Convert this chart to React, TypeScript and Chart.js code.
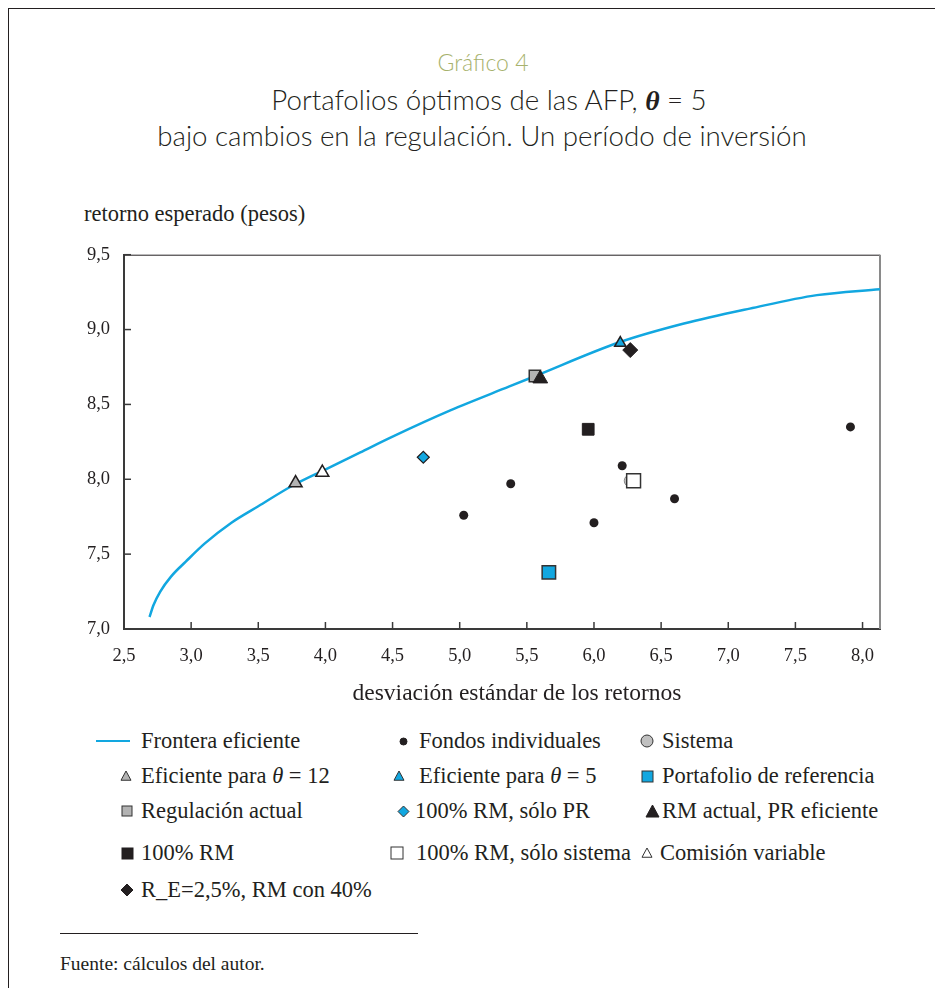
import React, { useEffect, useRef } from "react";
import { Chart, registerables } from "chart.js";
Chart.register(...registerables);

// ---------- data ----------
const frontierSd = [2.69, 2.72, 2.77, 2.85, 2.96, 3.1, 3.3, 3.5, 3.76, 4.01, 4.26, 4.5, 4.93, 5.37, 5.55, 6.19, 6.67, 7.16, 7.66, 8.13];
const frontierRet = [7.08, 7.16, 7.25, 7.35, 7.45, 7.57, 7.71, 7.82, 7.96, 8.07, 8.18, 8.285, 8.46, 8.62, 8.685, 8.915, 9.04, 9.14, 9.23, 9.27];

const fondosSd = [5.03, 5.38, 6.0, 6.21, 6.6, 7.91];
const fondosRet = [7.76, 7.97, 7.71, 8.09, 7.87, 8.35];

const sistema = [6.27, 7.99];
const eficiente12 = [3.778, 7.975];
const eficiente5 = [6.196, 8.91];
const portafolioRef = [5.664, 7.378];
const regulacionActual = [5.56, 8.69];
const rm100SoloPR = [4.729, 8.147];
const rmActualPREf = [5.6, 8.672];
const rm100 = [5.957, 8.334];
const rm100SoloSistema = [6.295, 7.99];
const comisionVariable = [3.977, 8.045];
const re25 = [6.27, 8.863];

const xTicksMin = 2.5;
const xTicksMax = 8.13;
const yTicksMin = 7.0;
const yTicksMax = 9.5;
const tickStep = 0.5;

// ---------- styles ----------
const BLUE = "#12a7e0";
const DARK = "#231f20";
const GRAY = "#b3b3b3";
const SERIF = "'Liberation Serif', 'Times New Roman', serif";
const SANS = "Lato, 'Open Sans', sans-serif";

const fmt = (v: number) => Number(v).toFixed(1).replace(".", ",");

const pt = (a: number[]) => [{ x: a[0], y: a[1] }];

const framePlugin = {
  id: "frameTicks",
  beforeDatasetsDraw(chart: any) {
    const { ctx, chartArea } = chart;
    const xs = chart.scales.x;
    const ys = chart.scales.y;
    ctx.save();
    ctx.strokeStyle = DARK;
    ctx.lineWidth = 1;
    ctx.beginPath();
    ctx.moveTo(chartArea.left, chartArea.top + 0.5);
    ctx.lineTo(chartArea.right, chartArea.top + 0.5);
    ctx.stroke();
    ctx.strokeStyle = "#8a8a8a";
    ctx.lineWidth = 2;
    ctx.beginPath();
    ctx.moveTo(chartArea.right, chartArea.top);
    ctx.lineTo(chartArea.right, chartArea.bottom);
    ctx.stroke();
    ctx.strokeStyle = "#3a3a3a";
    ctx.lineWidth = 1.5;
    xs.ticks.forEach((t: any) => {
      const px = xs.getPixelForValue(t.value);
      ctx.beginPath();
      ctx.moveTo(px, chartArea.bottom);
      ctx.lineTo(px, chartArea.bottom - 7);
      ctx.stroke();
    });
    ys.ticks.forEach((t: any) => {
      const py = ys.getPixelForValue(t.value);
      ctx.beginPath();
      ctx.moveTo(chartArea.left, py);
      ctx.lineTo(chartArea.left + 7, py);
      ctx.stroke();
    });
    ctx.restore();
  },
};

function ChartCanvas() {
  const ref = useRef<HTMLCanvasElement | null>(null);
  useEffect(() => {
    if (!ref.current) return;
    const tickFont = { family: SERIF, size: 18.5 };
    const chart = new Chart(ref.current, {
      type: "scatter",
      data: {
        datasets: [
          { label: "R_E=2,5%, RM con 40%", data: pt(re25), pointStyle: "rectRot", pointRadius: 7.5, backgroundColor: DARK, borderColor: DARK, borderWidth: 1 },
          { label: "RM actual, PR eficiente", data: pt(rmActualPREf), pointStyle: "triangle", pointRadius: 8.5, backgroundColor: DARK, borderColor: DARK, borderWidth: 1 },
          { label: "Eficiente para θ = 5", data: pt(eficiente5), pointStyle: "triangle", pointRadius: 6.5, backgroundColor: BLUE, borderColor: DARK, borderWidth: 1.5 },
          { label: "Regulación actual", data: pt(regulacionActual), pointStyle: "rect", pointRadius: 8, backgroundColor: GRAY, borderColor: "#333", borderWidth: 1.5 },
          { label: "100% RM, sólo sistema", data: pt(rm100SoloSistema), pointStyle: "rect", pointRadius: 9.8, backgroundColor: "#ffffff", borderColor: "#333", borderWidth: 1.5 },
          { label: "Sistema", data: pt(sistema), pointStyle: "circle", pointRadius: 6, backgroundColor: "#c8c8c8", borderColor: "#888", borderWidth: 1 },
          { label: "100% RM", data: pt(rm100), pointStyle: "rect", pointRadius: 8.3, backgroundColor: DARK, borderColor: DARK, borderWidth: 1 },
          { label: "Portafolio de referencia", data: pt(portafolioRef), pointStyle: "rect", pointRadius: 9.5, backgroundColor: BLUE, borderColor: "#333", borderWidth: 1.5 },
          { label: "100% RM, sólo PR", data: pt(rm100SoloPR), pointStyle: "rectRot", pointRadius: 6, backgroundColor: BLUE, borderColor: DARK, borderWidth: 1.2 },
          { label: "Comisión variable", data: pt(comisionVariable), pointStyle: "triangle", pointRadius: 7.5, backgroundColor: "#ffffff", borderColor: DARK, borderWidth: 1.5 },
          { label: "Eficiente para θ = 12", data: pt(eficiente12), pointStyle: "triangle", pointRadius: 7.5, backgroundColor: GRAY, borderColor: DARK, borderWidth: 1.5 },
          { label: "Fondos individuales", data: fondosSd.map((x, i) => ({ x, y: fondosRet[i] })), pointStyle: "circle", pointRadius: 4.5, backgroundColor: DARK, borderColor: DARK, borderWidth: 0 },
          { label: "Frontera eficiente", data: frontierSd.map((x, i) => ({ x, y: frontierRet[i] })), showLine: true, pointRadius: 0, borderColor: BLUE, borderWidth: 2.5, cubicInterpolationMode: "monotone", fill: false } as any,
        ],
      },
      options: {
        animation: false,
        responsive: false,
        maintainAspectRatio: false,
        events: [],
        layout: { padding: { top: 26.7, right: 20, bottom: 0, left: 0 } },
        plugins: { legend: { display: false }, tooltip: { enabled: false }, title: { display: false } },
        scales: {
          x: {
            type: "linear",
            min: xTicksMin,
            max: xTicksMax,
            afterFit: (s: any) => { s.height = 91; },
            ticks: { stepSize: tickStep, includeBounds: false, padding: 16, font: tickFont, color: DARK, callback: (v: any) => fmt(v) },
            grid: { display: false, drawTicks: false },
            border: { display: true, color: "#3a3a3a", width: 2 },
          },
          y: {
            type: "linear",
            min: yTicksMin,
            max: yTicksMax,
            afterFit: (s: any) => { s.width = 64; },
            ticks: { stepSize: tickStep, includeBounds: false, padding: 14, font: tickFont, color: DARK, callback: (v: any) => fmt(v) },
            grid: { display: false, drawTicks: false },
            border: { display: true, color: "#3a3a3a", width: 2 },
          },
        },
      },
      plugins: [framePlugin],
    } as any);
    return () => chart.destroy();
  }, []);
  return <canvas ref={ref} width={840} height={492} style={{ position: "absolute", left: 60 - 9, top: 228 - 9, width: 840, height: 492 }} />;
}

type MarkerKind = "line" | "dot" | "circle" | "tri" | "sq" | "dia";
function Marker({ kind, fill, stroke, size, cx, cy }: { kind: MarkerKind; fill: string; stroke: string; size: number; cx: number; cy: number }) {
  const w = kind === "line" ? 34 : size + 4;
  const h = kind === "line" ? 6 : size + 4;
  const c = w / 2;
  const m = h / 2;
  const s = size / 2;
  let shape: any = null;
  if (kind === "line") shape = <line x1={0} y1={m} x2={w} y2={m} stroke={fill} strokeWidth={2} />;
  else if (kind === "dot" || kind === "circle") shape = <circle cx={c} cy={m} r={s} fill={fill} stroke={stroke} strokeWidth={1} />;
  else if (kind === "tri") shape = <polygon points={`${c},${m - s} ${c + s},${m + s * 0.85} ${c - s},${m + s * 0.85}`} fill={fill} stroke={stroke} strokeWidth={1} />;
  else if (kind === "sq") shape = <rect x={c - s} y={m - s} width={size} height={size} fill={fill} stroke={stroke} strokeWidth={1} />;
  else if (kind === "dia") shape = <polygon points={`${c},${m - s} ${c + s},${m} ${c},${m + s} ${c - s},${m}`} fill={fill} stroke={stroke} strokeWidth={1} />;
  return (
    <svg width={w} height={h} style={{ position: "absolute", left: cx - 9 - w / 2, top: cy - 9 - h / 2 }}>
      {shape}
    </svg>
  );
}

type LegendItem = { text: any; kind: MarkerKind; fill: string; stroke: string; size: number; mx: number; tx: number; y: number };
const legendItems: LegendItem[] = [
  { text: "Frontera eficiente", kind: "line", fill: BLUE, stroke: BLUE, size: 0, mx: 113, tx: 141, y: 741 },
  { text: "Fondos individuales", kind: "dot", fill: DARK, stroke: DARK, size: 7, mx: 403, tx: 419, y: 741 },
  { text: "Sistema", kind: "circle", fill: "#c0c0c0", stroke: "#333", size: 12, mx: 647, tx: 662, y: 741 },
  { text: <>Eficiente para <i>θ</i> = 12</>, kind: "tri", fill: GRAY, stroke: "#333", size: 10, mx: 126, tx: 141, y: 776 },
  { text: <>Eficiente para <i>θ</i> = 5</>, kind: "tri", fill: BLUE, stroke: "#333", size: 10, mx: 399, tx: 419, y: 776 },
  { text: "Portafolio de referencia", kind: "sq", fill: BLUE, stroke: "#333", size: 11, mx: 647, tx: 662, y: 776 },
  { text: "Regulación actual", kind: "sq", fill: GRAY, stroke: "#333", size: 10, mx: 127, tx: 141, y: 811 },
  { text: "100% RM, sólo PR", kind: "dia", fill: BLUE, stroke: "#333", size: 11, mx: 403, tx: 415, y: 811 },
  { text: "RM actual, PR eficiente", kind: "tri", fill: DARK, stroke: DARK, size: 13, mx: 652, tx: 662, y: 811 },
  { text: "100% RM", kind: "sq", fill: DARK, stroke: DARK, size: 11, mx: 127, tx: 141, y: 853 },
  { text: "100% RM, sólo sistema", kind: "sq", fill: "#ffffff", stroke: "#333", size: 12, mx: 397, tx: 416, y: 853 },
  { text: "Comisión variable", kind: "tri", fill: "#ffffff", stroke: "#333", size: 10, mx: 647, tx: 660, y: 853 },
  { text: "R_E=2,5%, RM con 40%", kind: "dia", fill: DARK, stroke: DARK, size: 12, mx: 127, tx: 141, y: 890 },
];

function TextAt({ x, y, children, style, center, width }: { x: number; y: number; children: any; style?: any; center?: boolean; width?: number }) {
  const lh = 30;
  const w = width ?? 800;
  return (
    <div
      style={{
        position: "absolute",
        left: center ? x - 9 - w / 2 : x - 9,
        top: y - 9 - lh / 2,
        width: center ? w : undefined,
        textAlign: center ? "center" : "left",
        lineHeight: `${lh}px`,
        height: lh,
        whiteSpace: "nowrap",
        color: DARK,
        ...style,
      }}
    >
      {children}
    </div>
  );
}

export default function App() {
  const legendFont = { fontFamily: SERIF, fontSize: 22.5 };
  const titleStyle = { fontFamily: SANS, fontWeight: 300, fontSize: 27.7, color: DARK };
  return (
    <div
      style={{
        position: "relative",
        width: 933,
        height: 979,
        borderTop: `1px solid ${DARK}`,
        borderLeft: `1px solid ${DARK}`,
        borderRight: `1px solid ${DARK}`,
        overflow: "hidden",
      }}
    >
      <TextAt x={483} y={62} center style={{ fontFamily: SANS, fontWeight: 300, fontSize: 23, color: "#a7b26d" }}>Gráfico 4</TextAt>
      <TextAt x={489} y={100} center style={titleStyle}>
        Portafolios óptimos de las AFP, <span style={{ fontFamily: SERIF, fontStyle: "italic", fontWeight: "bold" }}>θ</span> = 5
      </TextAt>
      <TextAt x={482} y={136} center style={titleStyle}>bajo cambios en la regulación. Un período de inversión</TextAt>

      <TextAt x={84} y={214} style={{ fontFamily: SERIF, fontSize: 22.5 }}>retorno esperado (pesos)</TextAt>
      <ChartCanvas />
      <TextAt x={517} y={692} center style={{ fontFamily: SERIF, fontSize: 23.5 }}>desviación estándar de los retornos</TextAt>

      {legendItems.map((it, i) => (
        <React.Fragment key={i}>
          <Marker kind={it.kind} fill={it.fill} stroke={it.stroke} size={it.size} cx={it.mx} cy={it.y} />
          <TextAt x={it.tx} y={it.y} style={legendFont}>{it.text}</TextAt>
        </React.Fragment>
      ))}

      <div style={{ position: "absolute", left: 60 - 9, top: 933 - 9, width: 358, height: 1, background: DARK }} />
      <TextAt x={60} y={964} style={{ fontFamily: SERIF, fontSize: 19.5 }}>Fuente: cálculos del autor.</TextAt>
    </div>
  );
}
